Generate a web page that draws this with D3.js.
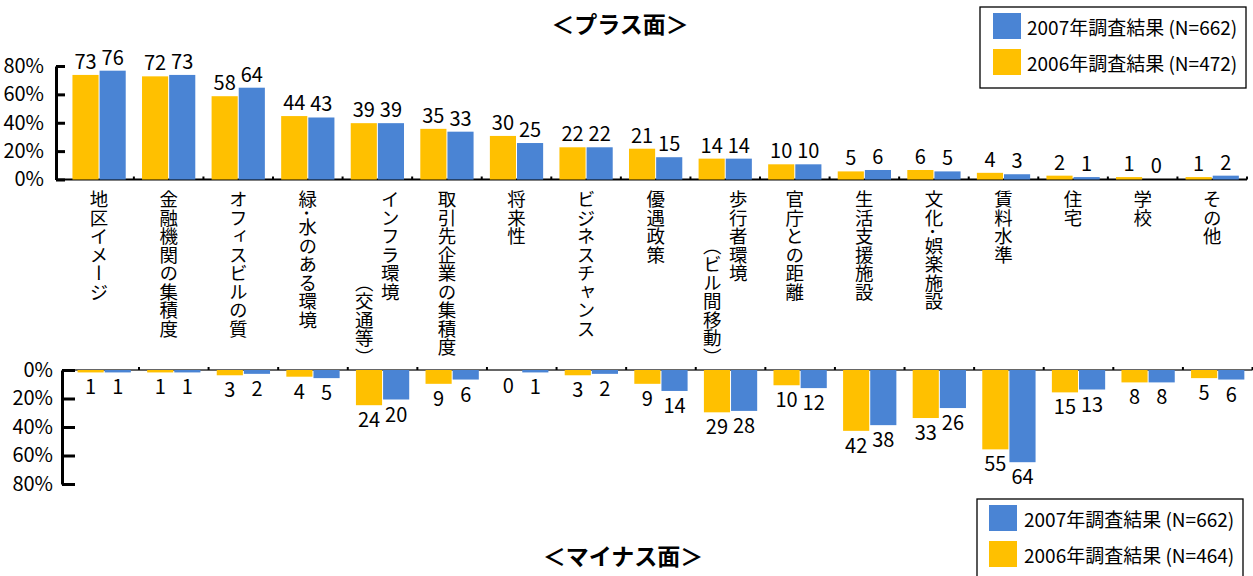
<!DOCTYPE html>
<html><head><meta charset="utf-8">
<script src="https://cdn.jsdelivr.net/npm/d3@7"></script>
<style>
html,body{margin:0;padding:0;background:#fff;}
svg{display:block;font-family:"Noto Sans CJK JP","Noto Sans",sans-serif;}
</style></head><body>
<svg id="chart" width="1253" height="576"></svg>
<script>
// ---- data ----
const categories = ["地区イメージ","金融機関の集積度","オフィスビルの質","緑･水のある環境","インフラ環境\n　　　　　（交通等）","取引先企業の集積度","将来性","ビジネスチャンス","優遇政策","歩行者環境\n　　　（ビル間移動）","官庁との距離","生活支援施設","文化･娯楽施設","賃料水準","住宅","学校","その他"];
const seriesKeys = ["2006","2007"];
const plus2006 = [73,72,58,44,39,35,30,22,21,14,10,5,6,4,2,1,1];
const plus2007 = [76,73,64,43,39,33,25,22,15,14,10,6,5,3,1,0,2];
const minus2006 = [1,1,3,4,24,9,0,3,9,29,10,42,33,55,15,8,5];
const minus2007 = [1,1,2,5,20,6,1,2,14,28,12,38,26,64,13,8,6];
const yTicks = [0,20,40,60,80];
const plusLegend = ["2007年調査結果 (N=662)","2006年調査結果 (N=472)"];
const minusLegend = ["2007年調査結果 (N=662)","2006年調査結果 (N=464)"];
const plusTitle = "＜プラス面＞";
const minusTitle = "＜マイナス面＞";

const colors = {"2006":"#FFC000","2007":"#4A84D4"};
const svg = d3.select("#chart");

function panel(o){
  const g = svg.append("g");
  const x = d3.scaleBand().domain(categories.map((d,i)=>i)).range([o.x0,o.x1]).paddingInner(0.22).paddingOuter(0.11);
  const xs = d3.scaleBand().domain(seriesKeys).range([0,x.bandwidth()]);
  const y = d3.scaleLinear().domain([0,80]).range([o.yZero,o.yMax]);
  const vals = {"2006":o.d06,"2007":o.d07};
  const rows = [];
  categories.forEach((c,i)=>seriesKeys.forEach(s=>rows.push({i,s,v:vals[s][i]})));

  // x axis line + boundary ticks (under bars)
  g.append("line").attr("x1",o.axisX).attr("x2",o.x1).attr("y1",y(0)).attr("y2",y(0))
    .attr("stroke",o.xAxisColor).attr("stroke-width",2);
  const step = x.step();
  g.selectAll("line.xt").data(d3.range(1,categories.length+1)).join("line").attr("class","xt")
    .attr("x1",k=>o.x0+k*step).attr("x2",k=>o.x0+k*step)
    .attr("y1",y(0)).attr("y2",y(0)-3)
    .attr("stroke","#000").attr("stroke-width",2);

  // bars (extend slightly into the axis line so thin bars stay visible)
  const sgn = o.up ? -1 : 1;
  g.selectAll("rect.bar").data(rows.filter(d=>d.v>0)).join("rect").attr("class","bar")
    .attr("x",d=>x(d.i)+xs(d.s)+0.5)
    .attr("width",xs.bandwidth()-1)
    .attr("y",d=>o.up ? y(d.v)-1 : y(0))
    .attr("height",d=>Math.abs(y(d.v)-y(0))+1)
    .attr("fill",d=>colors[d.s]);

  const ax = g.append("g").attr("transform",`translate(${o.axisX},0)`)
    .call(d3.axisLeft(y).tickValues(yTicks).tickSize(-o.tickLen).tickSizeOuter(0).tickPadding(o.tickPad).tickFormat(d=>d+"%"));
  ax.select(".domain").attr("stroke","#000").attr("stroke-width",3);
  ax.selectAll(".tick line").attr("stroke","#000").attr("stroke-width",3);
  ax.selectAll(".tick text").attr("font-size",20).attr("fill","#000").attr("font-family",'"Noto Sans CJK JP",sans-serif');

  g.selectAll("text.val").data(rows).join("text").attr("class","val")
    .attr("x",d=>x(d.i)+xs(d.s)+xs.bandwidth()/2)
    .attr("y",d=>o.up ? y(d.v)-7 : y(d.v)+23)
    .attr("text-anchor","middle").attr("font-size",20).attr("fill","#000")
    .text(d=>d.v);
  return {x,y};
}

const plusPanel = panel({x0:64.3,x1:1247,axisX:56,yZero:179.5,yMax:66,d06:plus2006,d07:plus2007,up:true,tickLen:9,tickPad:12,xAxisColor:"#000"});
const minusPanel = panel({x0:69.4,x1:1252.5,axisX:62,yZero:370,yMax:484,d06:minus2006,d07:minus2007,up:false,tickLen:13,tickPad:9,xAxisColor:"#666"});

const lh = 26;
const catG = svg.append("g");
categories.forEach((c,i)=>{
  const lines = c.split("\n");
  const cx = plusPanel.x(i)+plusPanel.x.bandwidth()/2;
  lines.forEach((ln,j)=>{
    catG.append("text")
      .attr("x",cx+(lines.length-1)/2*lh - j*lh)
      .attr("y",190)
      .style("writing-mode","vertical-rl")
      .attr("font-size",18.5).attr("fill","#000")
      .text(ln);
  });
});

svg.append("text").attr("x",620).attr("y",23).attr("text-anchor","middle").attr("dominant-baseline","central")
  .attr("font-size",23).attr("font-weight","bold").text(plusTitle);
svg.append("text").attr("x",623).attr("y",555).attr("text-anchor","middle").attr("dominant-baseline","central")
  .attr("font-size",23).attr("font-weight","bold").text(minusTitle);

function legend(bx,by,h,labels,swX,sw0,txtX){
  const g = svg.append("g");
  g.append("rect").attr("x",bx).attr("y",by).attr("width",266).attr("height",h)
    .attr("fill","#fff").attr("stroke","#000").attr("stroke-width",1.3);
  const keys = ["2007","2006"];
  keys.forEach((k,j)=>{
    g.append("rect").attr("x",swX).attr("y",sw0+j*36).attr("width",28).attr("height",26).attr("fill",colors[k]);
    g.append("text").attr("x",txtX).attr("y",sw0+j*36+13).attr("dominant-baseline","central")
      .attr("font-size",19).attr("fill","#000").text(labels[j]);
  });
}
legend(980,7,81,plusLegend,993,13,1027);
legend(977,499,90,minusLegend,989,505,1024);
</script>
</body></html>
